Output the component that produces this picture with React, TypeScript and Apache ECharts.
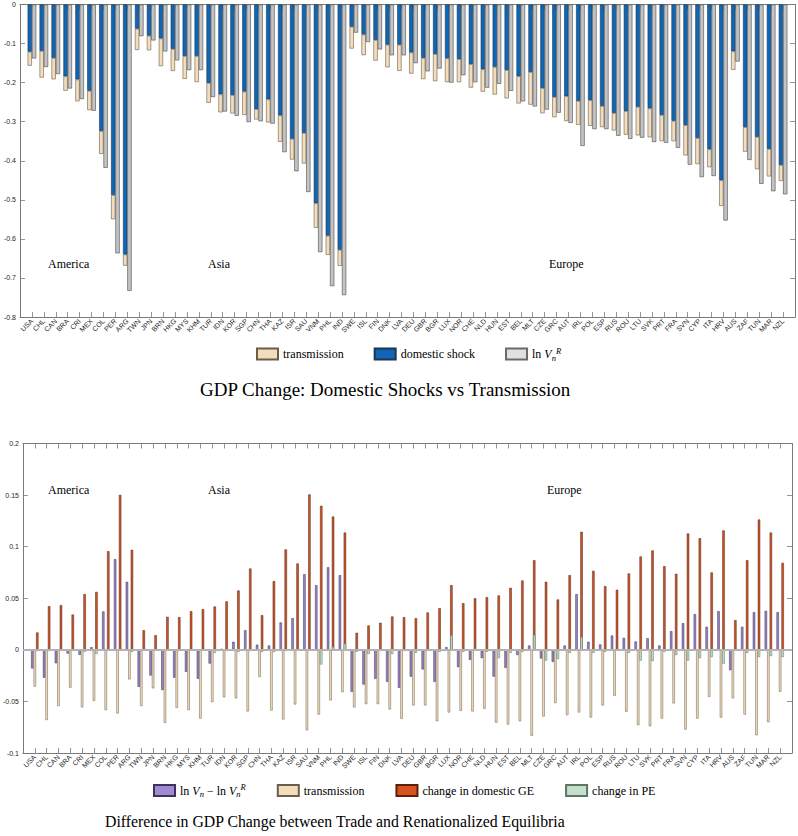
import React, { useEffect, useRef } from 'react';
import * as echarts from 'echarts';

const countries = ['USA','CHL','CAN','BRA','CRI','MEX','COL','PER','ARG','TWN','JPN','BRN','HKG','MYS','KHM','TUR','IDN','KOR','SGP','CHN','THA','KAZ','ISR','SAU','VNM','PHL','IND','SWE','ISL','FIN','DNK','LVA','DEU','GBR','BGR','LUX','NOR','CHE','NLD','HUN','EST','BEL','MLT','CZE','GRC','AUT','IRL','POL','ESP','RUS','ROU','LTU','SVK','PRT','FRA','SVN','CYP','ITA','HRV','AUS','ZAF','TUN','MAR','NZL'];

const domesticShock = [-0.121,-0.119,-0.137,-0.184,-0.192,-0.221,-0.324,-0.488,-0.640,
 -0.062,-0.080,-0.087,-0.114,-0.132,-0.132,-0.201,-0.230,-0.232,-0.223,-0.268,-0.243,-0.284,-0.344,-0.329,-0.509,-0.592,-0.628,
 -0.057,-0.077,-0.091,-0.103,-0.103,-0.123,-0.137,-0.127,-0.138,-0.140,
 -0.153,-0.166,-0.160,-0.168,-0.184,-0.173,-0.214,-0.237,-0.235,-0.247,
 -0.245,-0.260,-0.278,-0.273,-0.262,-0.266,-0.283,-0.298,-0.309,-0.342,
 -0.371,-0.450,
 -0.120,-0.314,-0.339,-0.370,-0.411];

const transmission = [-0.0357,-0.068,-0.0545,-0.0367,-0.0558,-0.0494,-0.0584,-0.0617,-0.0286,
 -0.0545,-0.0373,-0.0708,-0.0562,-0.0584,-0.0666,-0.0506,-0.046,-0.047,-0.0597,-0.0263,-0.0588,-0.0675,-0.0529,-0.078,-0.0627,-0.049,-0.041,
 -0.0558,-0.0526,-0.0526,-0.0578,-0.0669,-0.0539,-0.0539,-0.0692,-0.0607,-0.0591,
 -0.0597,-0.0571,-0.0705,-0.0724,-0.0692,-0.0834,-0.0646,-0.0516,-0.0633,-0.0607,
 -0.0656,-0.0539,-0.0445,-0.0601,-0.073,-0.074,-0.0666,-0.0519,-0.0773,-0.0666,
 -0.0455,-0.0656,
 -0.047,-0.0627,-0.0828,-0.0701,-0.0406];

const lnVR = [-0.138,-0.160,-0.178,-0.215,-0.242,-0.272,-0.418,-0.637,-0.733,
 -0.081,-0.092,-0.120,-0.143,-0.168,-0.168,-0.237,-0.274,-0.285,-0.301,-0.299,-0.305,-0.378,-0.427,-0.480,-0.634,-0.721,-0.744,
 -0.072,-0.096,-0.115,-0.130,-0.130,-0.150,-0.171,-0.164,-0.200,-0.181,
 -0.199,-0.213,-0.203,-0.221,-0.248,-0.261,-0.269,-0.277,-0.303,-0.362,
 -0.319,-0.319,-0.336,-0.344,-0.341,-0.352,-0.354,-0.367,-0.410,-0.442,
 -0.439,-0.553,
 -0.146,-0.398,-0.459,-0.478,-0.486];

const lnDiff = [-0.018,-0.027,-0.013,-0.0036,-0.0048,0.0026,0.0372,0.0879,0.0659,
 -0.0359,-0.0249,-0.039,-0.027,-0.0213,-0.028,-0.0133,0.001,0.0078,0.019,0.005,0.0042,0.0265,0.0307,0.0733,0.0627,0.080,0.0724,
 -0.0407,-0.0336,-0.0281,-0.031,-0.0368,-0.026,-0.019,-0.031,0.0026,-0.0168,
 -0.0097,-0.008,-0.026,-0.0174,-0.005,0.0042,-0.0084,-0.0116,0.0042,0.054,
 0.0078,0.0052,0.0139,0.0116,0.0081,0.0113,0.0042,0.0181,0.0258,0.0346,
 0.0223,0.0375,
 -0.0197,0.0223,0.0365,0.0378,0.0365];

const domesticGE = [0.0168,0.0423,0.0433,0.0342,0.054,0.0562,0.0956,0.1502,0.0969,
 0.019,0.0142,0.032,0.0317,0.0375,0.0394,0.042,0.047,0.0575,0.0788,0.0336,0.0666,0.0973,0.0837,0.1506,0.1396,0.1292,0.1137,
 0.0165,0.0236,0.0262,0.0323,0.0317,0.0307,0.0362,0.0404,0.0627,0.0452,
 0.050,0.051,0.0527,0.0601,0.0672,0.0869,0.0659,0.0488,0.0724,0.1144,
 0.0766,0.0617,0.0582,0.074,0.0905,0.0963,0.0811,0.0737,0.1128,0.1082,
 0.075,0.1157,
 0.0288,0.0869,0.1263,0.1137,0.0843];

const changePE = [-0.001,-0.001,-0.001,-0.001,-0.002,-0.004,0,0,-0.002,
 0,0,-0.001,-0.001,0,0,-0.003,-0.001,-0.002,-0.001,-0.002,-0.002,-0.001,0.001,0.001,-0.0142,0.003,0.006,
 -0.002,-0.004,-0.001,-0.004,-0.001,-0.003,-0.001,-0.002,0.0142,-0.002,
 0.0016,-0.002,-0.008,-0.003,-0.002,0.0145,-0.0104,-0.009,-0.003,0.0125,
 -0.003,-0.002,0,-0.003,-0.0104,-0.011,-0.002,-0.005,-0.0104,-0.008,
 -0.007,-0.0136,
 -0.001,-0.003,-0.007,-0.006,-0.007];

const regions = ['America', 'Asia', 'Europe'];
const titles = ['GDP Change: Domestic Shocks vs Transmission', 'Difference in GDP Change between Trade and Renationalized Equilibria'];

const SERIF = 'Liberation Serif';
const SANS = 'Liberation Sans';
const AX = '#7a7a7a';

// axis runs from an empty slot before the first country to an empty slot after the last one
const axisCats = ['', ...countries, ''];
const pad = (arr: (number | null)[]) => [null, ...arr, null];

function xAxis(gridIndex: number, position: string, labels: boolean) {
  return {
    type: 'category', gridIndex, position, data: axisCats, boundaryGap: false,
    axisLine: { show: true, onZero: false, lineStyle: { color: AX, width: 1 } },
    axisTick: { show: true, inside: true, length: 5, interval: 0, lineStyle: { color: AX, width: 0.8 } },
    axisLabel: labels ? {
      show: true, interval: 0, rotate: 45, margin: 3, fontSize: 7, fontFamily: SANS, color: '#262626',
    } : { show: false },
    splitLine: { show: false },
  };
}

function yAxis(gridIndex: number, position: string, labels: boolean, min: number, max: number, interval: number) {
  return {
    type: 'value', gridIndex, position, min, max, interval,
    axisLine: { show: true, onZero: false, lineStyle: { color: AX, width: 1 } },
    axisTick: { show: true, inside: true, length: 5, lineStyle: { color: AX, width: 0.8 } },
    axisLabel: labels ? { show: true, margin: 4, fontSize: 7, fontFamily: SANS, color: '#262626' } : { show: false },
    splitLine: { show: false },
  };
}

const rich = {
  t: { fontFamily: SERIF, fontSize: 12, color: '#000', lineHeight: 16 },
  i: { fontFamily: SERIF, fontSize: 12, fontStyle: 'italic', color: '#000', lineHeight: 16 },
  sb: { fontFamily: SERIF, fontSize: 8.5, fontStyle: 'italic', color: '#000', lineHeight: 9, verticalAlign: 'bottom' },
  sp: { fontFamily: SERIF, fontSize: 8.5, fontStyle: 'italic', color: '#000', lineHeight: 9, verticalAlign: 'top' },
};

const legendFormatter = (name: string) => {
  if (name === 'lnVR') return '{t|ln }{i|V}{sb|n}{sp|R}';
  if (name === 'lnDiff') return '{t|ln }{i|V}{sb|n}{t| − ln }{i|V}{sb|n}{sp|R}';
  return name;
};

export default function App() {
  const ref = useRef<HTMLDivElement>(null);
  useEffect(() => {
    document.body.style.margin = '0';
    const chart = echarts.init(ref.current!, null, { renderer: 'svg' });
    const legendCommon = {
      orient: 'horizontal', padding: 0, itemWidth: 21, itemHeight: 11, icon: 'rect',
      formatter: legendFormatter,
      textStyle: { fontFamily: SERIF, fontSize: 12, color: '#000', lineHeight: 16, rich },
      selectedMode: false,
    };
    const regionText = (text: string, x: number, y: number) => ({
      type: 'text', x, y, silent: true,
      style: { text, fontFamily: SERIF, fontSize: 12, fill: '#000', verticalAlign: 'middle' },
    });
    const option = {
      animation: false,
      backgroundColor: '#fff',
      title: [
        { text: titles[0], left: 195, top: 375, textStyle: { fontFamily: SERIF, fontSize: 19, fontWeight: 'normal', color: '#000' } },
        { text: titles[1], left: 100, top: 808, textStyle: { fontFamily: SERIF, fontSize: 15.8, fontWeight: 'normal', color: '#000' } },
      ],
      legend: [
        { ...legendCommon, left: 256, top: 346, itemGap: 30,
          data: ['transmission', 'domestic shock', { name: 'lnVR', itemStyle: { color: '#e0e0e0', borderColor: '#6a6a6a' } }] },
        { ...legendCommon, left: 153, top: 782.5, itemGap: 31,
          data: [{ name: 'lnDiff', itemStyle: { color: '#a08bd0' } }, 'transmission',
            { name: 'change in domestic GE', itemStyle: { color: '#d9531e' } }, 'change in PE'] },
      ],
      grid: [
        { left: 20, top: 4.5, width: 775, height: 312.5 },
        { left: 20.5, top: 443.5, width: 771.5, height: 309.5 },
      ],
      xAxis: [xAxis(0, 'bottom', true), xAxis(0, 'top', false), xAxis(1, 'bottom', true), xAxis(1, 'top', false)],
      yAxis: [
        yAxis(0, 'left', true, -0.8, 0, 0.1), yAxis(0, 'right', false, -0.8, 0, 0.1),
        yAxis(1, 'left', true, -0.1, 0.2, 0.05), yAxis(1, 'right', false, -0.1, 0.2, 0.05),
      ],
      series: [
        { name: 'domestic shock', type: 'bar', xAxisIndex: 0, yAxisIndex: 0, stack: 'gdp', barWidth: 4.3, barGap: 0,
          itemStyle: { color: '#0f66b5', borderColor: '#1c3553', borderWidth: 0.6 }, data: pad(domesticShock) },
        { name: 'transmission', type: 'bar', xAxisIndex: 0, yAxisIndex: 0, stack: 'gdp', barWidth: 4.3, barGap: 0,
          itemStyle: { color: '#f2ddbd', borderColor: '#6b5d48', borderWidth: 0.6 }, data: pad(transmission) },
        { name: 'lnVR', type: 'bar', xAxisIndex: 0, yAxisIndex: 0, barWidth: 4.3, barGap: 0,
          itemStyle: { color: '#c3c3c3', borderColor: '#4a4a4a', borderWidth: 0.6 }, data: pad(lnVR) },

        { name: 'lnDiff', type: 'bar', xAxisIndex: 2, yAxisIndex: 2, barWidth: 2.4, barGap: '4%',
          itemStyle: { color: '#9985c2', borderColor: '#3d3260', borderWidth: 0.5 }, data: pad(lnDiff) },
        { name: 'transmission', type: 'bar', xAxisIndex: 2, yAxisIndex: 2, barWidth: 2.4, barGap: '4%',
          itemStyle: { color: '#f2ddbd', borderColor: '#6b5d48', borderWidth: 0.5 }, data: pad(transmission) },
        { name: 'change in domestic GE', type: 'bar', xAxisIndex: 2, yAxisIndex: 2, barWidth: 2.4, barGap: '4%',
          itemStyle: { color: '#cb5529', borderColor: '#5a200c', borderWidth: 0.5 }, data: pad(domesticGE) },

        { name: '_slot1', type: 'bar', xAxisIndex: 3, yAxisIndex: 2, barWidth: 2.4, barGap: '4%', silent: true,
          data: pad(countries.map(() => null)) },
        { name: '_slot2', type: 'bar', xAxisIndex: 3, yAxisIndex: 2, barWidth: 2.4, barGap: '4%', silent: true,
          data: pad(countries.map(() => null)) },
        { name: 'change in PE', type: 'bar', xAxisIndex: 3, yAxisIndex: 2, barWidth: 2.4, barGap: '4%',
          itemStyle: { color: '#c4e0cc', borderColor: '#5d7565', borderWidth: 0.5 }, data: pad(changePE),
          markLine: { silent: true, symbol: 'none', label: { show: false },
            lineStyle: { color: '#b3b3b3', width: 1.8, type: 'solid' }, data: [{ yAxis: 0 }] } },
      ],
      graphic: [
        regionText(regions[0], 48, 264), regionText(regions[1], 208, 264), regionText(regions[2], 549, 264),
        regionText(regions[0], 48, 490), regionText(regions[1], 208, 490), regionText(regions[2], 547, 490),
      ],
    };
    chart.setOption(option as any);
    return () => chart.dispose();
  }, []);
  return <div ref={ref} style={{ width: 798, height: 836 }} />;
}
